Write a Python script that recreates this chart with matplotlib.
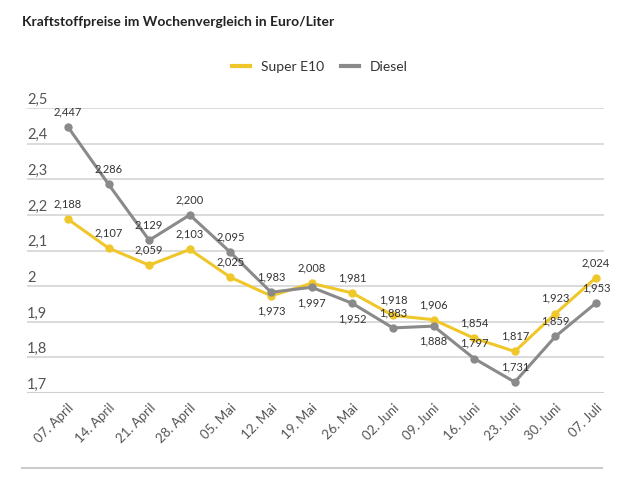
import numpy as np
import matplotlib.pyplot as plt
import matplotlib.transforms as mtransforms
from matplotlib.lines import Line2D

plt.rcParams['font.family'] = ['Lato', 'DejaVu Sans']

dates = ['07. April', '14. April', '21. April', '28. April', '05. Mai', '12. Mai', '19. Mai',
         '26. Mai', '02. Juni', '09. Juni', '16. Juni', '23. Juni', '30. Juni', '07. Juli']
e10 = [2.188, 2.107, 2.059, 2.103, 2.025, 1.973, 2.008, 1.981, 1.918, 1.906, 1.854, 1.817, 1.923, 2.024]
diesel = [2.447, 2.286, 2.129, 2.200, 2.095, 1.983, 1.997, 1.952, 1.883, 1.888, 1.797, 1.731, 1.859, 1.953]
# label above (1) or below (-1) the point
e10_pos = [1, 1, 1, 1, 1, -1, 1, 1, 1, 1, 1, 1, 1, 1]
diesel_pos = [1, 1, 1, 1, 1, 1, -1, -1, 1, -1, 1, 1, 1, 1]
yticks = [1.7, 1.8, 1.9, 2.0, 2.1, 2.2, 2.3, 2.4, 2.5]

yellow = '#f0c72a'
grey = '#8a8a8a'

fig = plt.figure(figsize=(6.4, 4.8), dpi=100)
ax = fig.add_axes([0.042, 0.181, 0.902, 0.594])

x = np.arange(len(dates))
ax.plot(x, e10, color=yellow, lw=2.2, marker='o', ms=5, zorder=3)
ax.plot(x, diesel, color=grey, lw=2.2, marker='o', ms=5, zorder=3)

def fmt(v):
    return f'{v:.3f}'.replace('.', ',')

for ys, pos in [(e10, e10_pos), (diesel, diesel_pos)]:
    for xi, yi, p in zip(x, ys, pos):
        ax.annotate(fmt(yi), (xi, yi), xytext=(0, 7 * p), textcoords='offset points',
                    ha='center', va='bottom' if p > 0 else 'top', fontsize=8, color='#333333',
                    zorder=4)

ax.set_xlim(-1.01, 13.2)
ax.set_ylim(1.7, 2.5)
ax.set_yticks(yticks)
ax.yaxis.grid(True, color='#d4d4d4', lw=1.2)
ax.set_axisbelow(True)
ax.tick_params(axis='y', length=0, labelleft=False)
trans = mtransforms.blended_transform_factory(ax.transAxes, ax.transData)
for t in yticks:
    lbl = f'{t:g}'.replace('.', ',')
    ax.annotate(lbl, (0.0, t), xycoords=trans, xytext=(0, 1), textcoords='offset points',
                ha='left', va='bottom', fontsize=10.5, color='#555555')
ax.set_xticks(x)
ax.set_xticklabels(dates, rotation=45, ha='right', rotation_mode='anchor', fontsize=9.5,
                   color='#555555')
ax.tick_params(axis='x', length=0, pad=6)
for s in ax.spines.values():
    s.set_visible(False)
ax.axhline(1.7, color='#cfcfcf', lw=1.5, zorder=1)

fig.text(0.034, 0.955, 'Kraftstoffpreise im Wochenvergleich in Euro/Liter', fontsize=10,
         fontweight='bold', color='#222222', va='center')
handles = [Line2D([], [], color=yellow, lw=3), Line2D([], [], color=grey, lw=3)]
fig.legend(handles, ['Super E10', 'Diesel'], loc='center', bbox_to_anchor=(0.5, 0.86), ncol=2,
           frameon=False, fontsize=10, handlelength=1.3, columnspacing=1.2,
           labelcolor='#333333')
fig.add_artist(Line2D([0.034, 0.94], [0.025, 0.025], color='#cccccc', lw=1.5))

fig.savefig('out.png', dpi=100)
